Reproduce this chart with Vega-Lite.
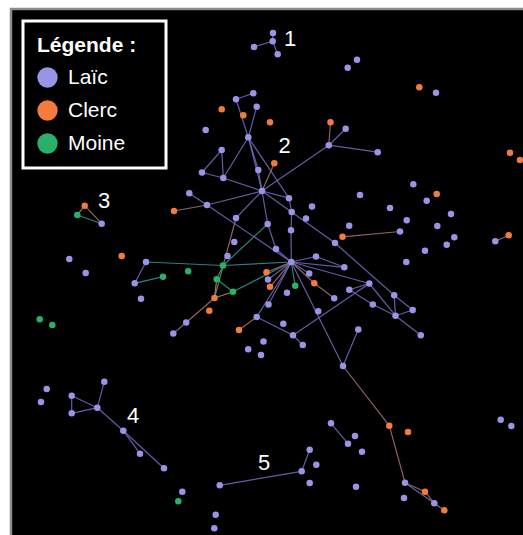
{
  "$schema": "https://vega.github.io/schema/vega-lite/v6.json",
  "width": 514,
  "height": 528,
  "autosize": "none",
  "padding": {"left": 11, "top": 9, "right": 0, "bottom": 0},
  "background": "white",
  "config": {
    "view": {"fill": "black", "stroke": "#8c8c8c", "strokeWidth": 2.5},
    "font": "Liberation Sans",
    "legend": {"strokeWidth": 3}
  },
  "datasets": {
    "nodes": [
      {"id":1,"x":254,"y":47,"type":"Laïc"},
      {"id":2,"x":273,"y":33,"type":"Laïc"},
      {"id":3,"x":272.7,"y":41.3,"type":"Laïc"},
      {"id":4,"x":277.7,"y":54.3,"type":"Laïc"},
      {"id":5,"x":357,"y":59.7,"type":"Laïc"},
      {"id":6,"x":347.7,"y":67.7,"type":"Laïc"},
      {"id":7,"x":419.3,"y":87.3,"type":"Clerc"},
      {"id":8,"x":436,"y":92.7,"type":"Laïc"},
      {"id":9,"x":253.3,"y":93.3,"type":"Laïc"},
      {"id":10,"x":236,"y":99.3,"type":"Laïc"},
      {"id":11,"x":256.7,"y":106.7,"type":"Laïc"},
      {"id":12,"x":221.7,"y":109.3,"type":"Clerc"},
      {"id":13,"x":243.3,"y":115.3,"type":"Clerc"},
      {"id":14,"x":270,"y":122.3,"type":"Clerc"},
      {"id":15,"x":205.7,"y":130,"type":"Laïc"},
      {"id":16,"x":248.3,"y":137.3,"type":"Laïc"},
      {"id":17,"x":330.5,"y":122.2,"type":"Clerc"},
      {"id":18,"x":345.7,"y":128.8,"type":"Laïc"},
      {"id":19,"x":328.8,"y":145.2,"type":"Laïc"},
      {"id":20,"x":377.7,"y":152.2,"type":"Laïc"},
      {"id":21,"x":274.3,"y":163.3,"type":"Clerc"},
      {"id":22,"x":510,"y":152.7,"type":"Clerc"},
      {"id":23,"x":520,"y":160,"type":"Clerc"},
      {"id":24,"x":221.7,"y":150,"type":"Laïc"},
      {"id":25,"x":202,"y":172.5,"type":"Laïc"},
      {"id":26,"x":223.3,"y":178,"type":"Laïc"},
      {"id":27,"x":258.3,"y":170,"type":"Laïc"},
      {"id":28,"x":262,"y":191,"type":"Laïc"},
      {"id":29,"x":189.3,"y":193.2,"type":"Laïc"},
      {"id":30,"x":207,"y":205,"type":"Laïc"},
      {"id":31,"x":174,"y":211,"type":"Clerc"},
      {"id":32,"x":289,"y":198.2,"type":"Laïc"},
      {"id":33,"x":291.7,"y":212,"type":"Laïc"},
      {"id":34,"x":312,"y":206.5,"type":"Laïc"},
      {"id":35,"x":306,"y":218.5,"type":"Laïc"},
      {"id":36,"x":236,"y":218,"type":"Laïc"},
      {"id":37,"x":267.7,"y":224,"type":"Laïc"},
      {"id":38,"x":291,"y":230.3,"type":"Laïc"},
      {"id":39,"x":234.3,"y":242,"type":"Laïc"},
      {"id":40,"x":276,"y":249,"type":"Laïc"},
      {"id":41,"x":227.5,"y":256,"type":"Laïc"},
      {"id":42,"x":223,"y":265.5,"type":"Moine"},
      {"id":43,"x":291.3,"y":262,"type":"Laïc"},
      {"id":44,"x":360,"y":195,"type":"Laïc"},
      {"id":45,"x":413.3,"y":184.2,"type":"Laïc"},
      {"id":46,"x":436.7,"y":194,"type":"Clerc"},
      {"id":47,"x":426.7,"y":200.8,"type":"Laïc"},
      {"id":48,"x":390,"y":208,"type":"Laïc"},
      {"id":49,"x":406.7,"y":220.2,"type":"Laïc"},
      {"id":50,"x":451,"y":214,"type":"Laïc"},
      {"id":51,"x":437.3,"y":226,"type":"Laïc"},
      {"id":52,"x":454.3,"y":237.3,"type":"Laïc"},
      {"id":53,"x":446.7,"y":244.7,"type":"Laïc"},
      {"id":54,"x":425,"y":250.7,"type":"Laïc"},
      {"id":55,"x":406.3,"y":262,"type":"Laïc"},
      {"id":56,"x":495.3,"y":241.3,"type":"Laïc"},
      {"id":57,"x":508.7,"y":235.3,"type":"Clerc"},
      {"id":58,"x":349.2,"y":225.8,"type":"Laïc"},
      {"id":59,"x":342.5,"y":236.8,"type":"Clerc"},
      {"id":60,"x":400,"y":231.5,"type":"Laïc"},
      {"id":61,"x":335,"y":243,"type":"Laïc"},
      {"id":62,"x":316,"y":256.5,"type":"Laïc"},
      {"id":63,"x":344.3,"y":267.3,"type":"Laïc"},
      {"id":64,"x":266.5,"y":272.2,"type":"Clerc"},
      {"id":65,"x":268,"y":279.5,"type":"Laïc"},
      {"id":66,"x":270,"y":286.8,"type":"Clerc"},
      {"id":67,"x":309.2,"y":273.5,"type":"Laïc"},
      {"id":68,"x":295.2,"y":285.8,"type":"Moine"},
      {"id":69,"x":314.3,"y":283.3,"type":"Clerc"},
      {"id":70,"x":287,"y":292.8,"type":"Laïc"},
      {"id":71,"x":334.2,"y":298.2,"type":"Laïc"},
      {"id":72,"x":369.3,"y":283.5,"type":"Laïc"},
      {"id":73,"x":349.3,"y":289.8,"type":"Laïc"},
      {"id":74,"x":394.2,"y":295.2,"type":"Laïc"},
      {"id":75,"x":372.8,"y":304.5,"type":"Laïc"},
      {"id":76,"x":412.7,"y":310,"type":"Laïc"},
      {"id":77,"x":395.5,"y":315.7,"type":"Laïc"},
      {"id":78,"x":268.5,"y":304.5,"type":"Laïc"},
      {"id":79,"x":318.2,"y":311.2,"type":"Laïc"},
      {"id":80,"x":283.3,"y":323.8,"type":"Laïc"},
      {"id":81,"x":293,"y":335.3,"type":"Laïc"},
      {"id":82,"x":302.8,"y":345,"type":"Laïc"},
      {"id":83,"x":358.3,"y":329.5,"type":"Laïc"},
      {"id":84,"x":420.8,"y":335.3,"type":"Laïc"},
      {"id":85,"x":263.5,"y":341.5,"type":"Laïc"},
      {"id":86,"x":261,"y":355,"type":"Laïc"},
      {"id":87,"x":248.2,"y":349.2,"type":"Laïc"},
      {"id":88,"x":256.7,"y":317,"type":"Laïc"},
      {"id":89,"x":239,"y":330,"type":"Clerc"},
      {"id":90,"x":214.5,"y":298,"type":"Clerc"},
      {"id":91,"x":209.3,"y":310.7,"type":"Clerc"},
      {"id":92,"x":216.7,"y":279.3,"type":"Moine"},
      {"id":93,"x":233,"y":291.7,"type":"Moine"},
      {"id":94,"x":188.2,"y":271.2,"type":"Moine"},
      {"id":95,"x":163,"y":276.7,"type":"Moine"},
      {"id":96,"x":146,"y":262,"type":"Laïc"},
      {"id":97,"x":134.7,"y":283.3,"type":"Laïc"},
      {"id":98,"x":141,"y":298.7,"type":"Laïc"},
      {"id":99,"x":121.7,"y":256,"type":"Clerc"},
      {"id":100,"x":69.3,"y":259,"type":"Laïc"},
      {"id":101,"x":85.7,"y":273,"type":"Laïc"},
      {"id":102,"x":84.7,"y":205.7,"type":"Clerc"},
      {"id":103,"x":77.3,"y":215,"type":"Moine"},
      {"id":104,"x":101.7,"y":223.7,"type":"Laïc"},
      {"id":105,"x":39.7,"y":319.3,"type":"Moine"},
      {"id":106,"x":52.3,"y":325,"type":"Moine"},
      {"id":107,"x":186.2,"y":322.5,"type":"Laïc"},
      {"id":108,"x":173.3,"y":333.5,"type":"Laïc"},
      {"id":109,"x":343,"y":366,"type":"Laïc"},
      {"id":110,"x":46.7,"y":389,"type":"Laïc"},
      {"id":111,"x":41,"y":402,"type":"Laïc"},
      {"id":112,"x":104.3,"y":381.7,"type":"Laïc"},
      {"id":113,"x":71.7,"y":395.7,"type":"Laïc"},
      {"id":114,"x":97.3,"y":407.7,"type":"Laïc"},
      {"id":115,"x":71.7,"y":413.3,"type":"Laïc"},
      {"id":116,"x":123.3,"y":430.7,"type":"Laïc"},
      {"id":117,"x":140,"y":453.7,"type":"Laïc"},
      {"id":118,"x":164,"y":468.3,"type":"Laïc"},
      {"id":119,"x":182.3,"y":491.7,"type":"Laïc"},
      {"id":120,"x":178.3,"y":501.3,"type":"Moine"},
      {"id":121,"x":219.7,"y":485.3,"type":"Laïc"},
      {"id":122,"x":215.7,"y":514.7,"type":"Laïc"},
      {"id":123,"x":214.3,"y":528.3,"type":"Laïc"},
      {"id":124,"x":331,"y":423.3,"type":"Laïc"},
      {"id":125,"x":348,"y":443.7,"type":"Laïc"},
      {"id":126,"x":355,"y":436,"type":"Laïc"},
      {"id":127,"x":362,"y":451.7,"type":"Laïc"},
      {"id":128,"x":309.7,"y":449.7,"type":"Laïc"},
      {"id":129,"x":316.3,"y":464.7,"type":"Laïc"},
      {"id":130,"x":301.7,"y":471.3,"type":"Laïc"},
      {"id":131,"x":309.7,"y":483,"type":"Laïc"},
      {"id":132,"x":356,"y":486.7,"type":"Laïc"},
      {"id":133,"x":389.3,"y":425.7,"type":"Clerc"},
      {"id":134,"x":408,"y":432,"type":"Clerc"},
      {"id":135,"x":405,"y":482.7,"type":"Laïc"},
      {"id":136,"x":404,"y":498,"type":"Laïc"},
      {"id":137,"x":425,"y":491.7,"type":"Clerc"},
      {"id":138,"x":434.3,"y":503.3,"type":"Laïc"},
      {"id":139,"x":444.3,"y":510.3,"type":"Clerc"},
      {"id":140,"x":500.7,"y":419.7,"type":"Laïc"},
      {"id":141,"x":511.3,"y":426,"type":"Laïc"}
    ],
    "edges": [
      {"s":1,"t":3,"k":"LL"},{"s":3,"t":2,"k":"LL"},{"s":3,"t":4,"k":"LL"},
      {"s":9,"t":10,"k":"LL"},{"s":10,"t":16,"k":"LL"},{"s":11,"t":16,"k":"LL"},
      {"s":16,"t":26,"k":"LL"},{"s":16,"t":27,"k":"LL"},{"s":16,"t":28,"k":"LL"},{"s":16,"t":32,"k":"LL"},
      {"s":24,"t":25,"k":"LL"},{"s":24,"t":26,"k":"LL"},{"s":25,"t":26,"k":"LL"},{"s":26,"t":28,"k":"LL"},
      {"s":27,"t":28,"k":"LL"},
      {"s":17,"t":19,"k":"LC"},{"s":18,"t":19,"k":"LL"},{"s":19,"t":20,"k":"LL"},{"s":19,"t":28,"k":"LL"},
      {"s":21,"t":28,"k":"LC"},
      {"s":29,"t":30,"k":"LL"},{"s":30,"t":31,"k":"LC"},{"s":30,"t":28,"k":"LL"},{"s":30,"t":43,"k":"LL"},
      {"s":28,"t":32,"k":"LL"},{"s":32,"t":33,"k":"LL"},{"s":33,"t":38,"k":"LL"},{"s":38,"t":43,"k":"LL"},
      {"s":28,"t":36,"k":"LL"},{"s":36,"t":90,"k":"LC"},
      {"s":28,"t":37,"k":"LL"},{"s":37,"t":40,"k":"LL"},{"s":40,"t":43,"k":"LL"},
      {"s":28,"t":61,"k":"LL"},{"s":61,"t":74,"k":"LL"},
      {"s":42,"t":37,"k":"LM"},{"s":96,"t":42,"k":"LM"},{"s":42,"t":43,"k":"LM"},
      {"s":42,"t":92,"k":"MM"},{"s":92,"t":90,"k":"CM"},{"s":92,"t":93,"k":"MM"},{"s":93,"t":90,"k":"CM"},{"s":93,"t":43,"k":"LM"},
      {"s":90,"t":107,"k":"LC"},{"s":107,"t":108,"k":"LL"},
      {"s":96,"t":97,"k":"LL"},{"s":97,"t":95,"k":"LM"},
      {"s":102,"t":104,"k":"LC"},{"s":103,"t":104,"k":"LM"},{"s":102,"t":103,"k":"CM"},
      {"s":43,"t":62,"k":"LL"},{"s":43,"t":63,"k":"LL"},{"s":62,"t":63,"k":"LL"},{"s":43,"t":72,"k":"LL"},
      {"s":43,"t":67,"k":"LL"},{"s":43,"t":64,"k":"LC"},{"s":43,"t":66,"k":"LC"},{"s":43,"t":65,"k":"LL"},
      {"s":43,"t":69,"k":"LC"},{"s":69,"t":71,"k":"LC"},{"s":43,"t":68,"k":"LM"},
      {"s":43,"t":78,"k":"LL"},{"s":43,"t":88,"k":"LL"},{"s":88,"t":89,"k":"LC"},{"s":88,"t":81,"k":"LL"},
      {"s":81,"t":82,"k":"LL"},{"s":72,"t":81,"k":"LL"},
      {"s":72,"t":73,"k":"LL"},{"s":73,"t":75,"k":"LL"},{"s":75,"t":77,"k":"LL"},{"s":72,"t":77,"k":"LL"},
      {"s":74,"t":77,"k":"LL"},{"s":74,"t":76,"k":"LL"},{"s":76,"t":77,"k":"LL"},{"s":77,"t":84,"k":"LL"},
      {"s":43,"t":109,"k":"LL"},{"s":83,"t":109,"k":"LL"},{"s":109,"t":133,"k":"LC"},{"s":133,"t":135,"k":"LC"},
      {"s":135,"t":137,"k":"LC"},{"s":135,"t":138,"k":"LL"},{"s":137,"t":138,"k":"LC"},{"s":138,"t":139,"k":"LC"},
      {"s":56,"t":57,"k":"LC"},{"s":59,"t":60,"k":"LC"},
      {"s":112,"t":114,"k":"LL"},{"s":113,"t":114,"k":"LL"},{"s":113,"t":115,"k":"LL"},{"s":115,"t":114,"k":"LL"},
      {"s":114,"t":116,"k":"LL"},{"s":116,"t":117,"k":"LL"},{"s":116,"t":118,"k":"LL"},
      {"s":121,"t":130,"k":"LL"},{"s":128,"t":130,"k":"LL"},{"s":124,"t":125,"k":"LL"}
    ],
    "labels": [
      {"t":"1","x":290,"y":38.5},
      {"t":"2","x":284.5,"y":146},
      {"t":"3","x":104,"y":201},
      {"t":"4","x":133,"y":415.5},
      {"t":"5","x":264,"y":463}
    ]
  },
  "layer": [
    {
      "data": {"name": "edges"},
      "transform": [
        {"lookup": "s", "from": {"data": {"name": "nodes"}, "key": "id", "fields": ["x", "y"]}, "as": ["sx", "sy"]},
        {"lookup": "t", "from": {"data": {"name": "nodes"}, "key": "id", "fields": ["x", "y"]}, "as": ["tx", "ty"]}
      ],
      "mark": {"type": "rule", "strokeWidth": 1.2, "opacity": 0.9},
      "encoding": {
        "x": {"field": "sx", "type": "quantitative", "scale": {"domain": [11, 525], "nice": false, "zero": false}, "axis": null},
        "y": {"field": "sy", "type": "quantitative", "scale": {"domain": [9, 537], "nice": false, "zero": false, "reverse": true}, "axis": null},
        "x2": {"field": "tx"},
        "y2": {"field": "ty"},
        "color": {"field": "k", "type": "nominal", "scale": {"domain": ["LL", "LC", "LM", "CM", "MM"], "range": ["#6d68b8", "#a46c6c", "#2f9088", "#929a46", "#25a862"]}, "legend": null}
      }
    },
    {
      "data": {"name": "nodes"},
      "mark": {"type": "circle", "size": 42, "opacity": 1},
      "encoding": {
        "x": {"field": "x", "type": "quantitative", "scale": {"domain": [11, 525], "nice": false, "zero": false}, "axis": null},
        "y": {"field": "y", "type": "quantitative", "scale": {"domain": [9, 537], "nice": false, "zero": false, "reverse": true}, "axis": null},
        "color": {
          "field": "type", "type": "nominal",
          "scale": {"domain": ["Laïc", "Clerc", "Moine"], "range": ["#9a94e6", "#f47b3e", "#28b169"]},
          "legend": {
            "title": "Légende :\u2800",
            "orient": "none", "legendX": 12, "legendY": 12,
            "padding": 14, "fillColor": "black", "strokeColor": "white",
            "titleColor": "white", "titleFontSize": 21, "titleFontWeight": "bold", "titleFont": "Liberation Sans", "titlePadding": 11,
            "labelColor": "white", "labelFontSize": 21, "labelFont": "Liberation Sans", "labelOffset": 10,
            "symbolType": "circle", "symbolSize": 415, "symbolStrokeWidth": 0, "symbolOpacity": 1,
            "rowPadding": 11
          }
        }
      }
    },
    {
      "data": {"name": "labels"},
      "mark": {"type": "text", "fontSize": 22, "color": "white", "align": "center", "baseline": "middle", "font": "Liberation Sans"},
      "encoding": {
        "x": {"field": "x", "type": "quantitative", "scale": {"domain": [11, 525], "nice": false, "zero": false}, "axis": null},
        "y": {"field": "y", "type": "quantitative", "scale": {"domain": [9, 537], "nice": false, "zero": false, "reverse": true}, "axis": null},
        "text": {"field": "t"}
      }
    }
  ],
  "resolve": {"scale": {"color": "independent"}}
}
